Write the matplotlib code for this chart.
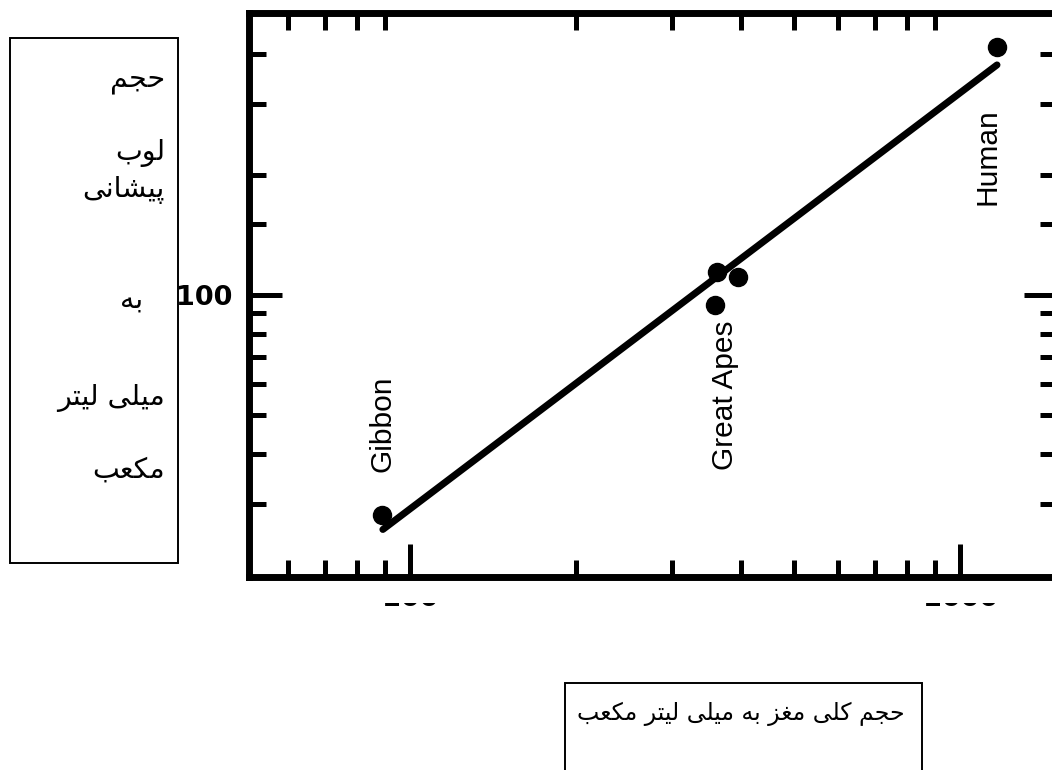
import matplotlib
matplotlib.use("Agg")
import matplotlib.pyplot as plt
from matplotlib.patches import Rectangle
from matplotlib.ticker import FixedLocator, FixedFormatter, NullFormatter
from matplotlib.transforms import Bbox

# total brain volume vs frontal lobe volume (cc), both on log scales
BRAIN_CC = [89, 358, 361, 395, 1167]
FRONTAL_CC = [28.2, 94.4, 114, 111, 417]

# fitted regression line end points
FIT_X = [89.3, 1167]
FIT_Y = [25.9, 376]

X_MAJOR = [100, 1000]
X_MAJOR_LABELS = ["100", "1000"]
X_MINOR = [60, 70, 80, 90, 200, 300, 400, 500, 600, 700, 800, 900]
Y_MAJOR = [100]
Y_MAJOR_LABELS = ["100"]
Y_MINOR = [30, 40, 50, 60, 70, 80, 90, 150, 200, 300, 400]

GROUP_LABELS = ["Gibbon", "Great Apes", "Human"]

Y_TITLE_LINES = ["حجم", "لوب", "پیشانی", "به", "میلی لیتر", "مکعب"]
X_TITLE = "حجم کلی مغز به میلی لیتر مکعب"

W, H = 1052, 770

# contextual forms (isolated, final, initial, medial); two entries = no forward join
FORMS = {
    "ا": "\uFE8D\uFE8E",
    "ب": "\uFE8F\uFE90\uFE91\uFE92",
    "پ": "\uFB56\uFB57\uFB58\uFB59",
    "ت": "\uFE95\uFE96\uFE97\uFE98",
    "ج": "\uFE9D\uFE9E\uFE9F\uFEA0",
    "ح": "\uFEA1\uFEA2\uFEA3\uFEA4",
    "ر": "\uFEAD\uFEAE",
    "ز": "\uFEAF\uFEB0",
    "ش": "\uFEB5\uFEB6\uFEB7\uFEB8",
    "ع": "\uFEC9\uFECA\uFECB\uFECC",
    "غ": "\uFECD\uFECE\uFECF\uFED0",
    "ک": "\uFB8E\uFB8F\uFB90\uFB91",
    "ل": "\uFEDD\uFEDE\uFEDF\uFEE0",
    "م": "\uFEE1\uFEE2\uFEE3\uFEE4",
    "ن": "\uFEE5\uFEE6\uFEE7\uFEE8",
    "ه": "\uFEE9\uFEEA\uFEEB\uFEEC",
    "و": "\uFEED\uFEEE",
    "ی": "\uFBFC\uFBFD\uFBFE\uFBFF",
}


def shape(text):
    """Join Persian letters and put them in visual (left-to-right) order."""
    out = []
    for i, ch in enumerate(text):
        forms = FORMS.get(ch)
        if forms is None:
            out.append(ch)
            continue
        prev = text[i - 1] if i > 0 else None
        nxt = text[i + 1] if i + 1 < len(text) else None
        join_prev = prev in FORMS and len(FORMS[prev]) == 4
        join_next = nxt in FORMS and len(forms) == 4
        if join_prev and join_next:
            out.append(forms[3])
        elif join_prev:
            out.append(forms[1])
        elif join_next:
            out.append(forms[2])
        else:
            out.append(forms[0])
    return "".join(reversed(out))


def fx(px):
    return px / W


def fy(py):
    return 1 - py / H


fig = plt.figure(figsize=(W / 100, H / 100), dpi=100)
ax = fig.add_axes([fx(249), fy(577), (1057 - 249) / W, (577 - 13) / H])
ax.set_xscale("log")
ax.set_yscale("log")
ax.set_xlim(51, 1500)
ax.set_ylim(19.7, 507)

ax.plot(FIT_X, FIT_Y, color="black", lw=5, solid_capstyle="round", zorder=2)
ax.plot(BRAIN_CC, FRONTAL_CC, "o", color="black", ms=13, zorder=3)

for side in ax.spines.values():
    side.set_linewidth(5)

ax.xaxis.set_major_locator(FixedLocator(X_MAJOR))
ax.xaxis.set_minor_locator(FixedLocator(X_MINOR))
ax.yaxis.set_major_locator(FixedLocator(Y_MAJOR))
ax.yaxis.set_minor_locator(FixedLocator(Y_MINOR))
ax.xaxis.set_major_formatter(NullFormatter())
ax.xaxis.set_minor_formatter(NullFormatter())
ax.yaxis.set_major_formatter(FixedFormatter(Y_MAJOR_LABELS))
ax.yaxis.set_minor_formatter(NullFormatter())

ax.tick_params(which="both", direction="in", width=3.6, color="black")
ax.tick_params(which="major", length=24)
ax.tick_params(which="minor", length=12)
ax.tick_params(axis="x", which="major", top=False, bottom=True)
ax.tick_params(axis="x", which="minor", top=True, bottom=True)
ax.tick_params(axis="y", which="both", left=True, right=True)
ax.tick_params(axis="y", which="major", pad=12, labelsize=19.5)
for lbl in ax.get_yticklabels():
    lbl.set_fontweight("bold")

# x tick labels: only the lower edge of the digits shows below the frame
strip = Bbox.from_extents(0, H - 607, W, H - 603)
for val, txt in zip(X_MAJOR, X_MAJOR_LABELS):
    t = ax.text(val, 0, txt, transform=ax.get_xaxis_transform(),
                ha="center", va="top", fontsize=19.5, fontweight="bold")
    t.set_position((val, -8.5 / (577 - 13)))
    t.set_clip_box(strip)
    t.set_clip_on(True)

# rotated group labels
label_pos = [(89.3, 36.1), (373.6, 36.5), (1122, 168)]
for (x, y), name in zip(label_pos, GROUP_LABELS):
    ax.text(x, y, name, rotation=90, ha="center", va="bottom",
            fontsize=21.5, family="Liberation Sans")

# axis titles in framed boxes
fig.add_artist(Rectangle((fx(10), fy(563)), (178 - 10) / W, (563 - 38) / H,
                         transform=fig.transFigure, fc="white", ec="black",
                         lw=1.4, zorder=5))
title_rows = [(165, 80, "right"), (165, 153, "right"), (165, 190, "right"),
              (132, 300, "center"), (165, 398, "right"), (165, 470, "right")]
for (px, py, ha), line in zip(title_rows, Y_TITLE_LINES):
    fig.text(fx(px), fy(py), shape(line), ha=ha, va="center",
             fontsize=20.5, family="DejaVu Sans", zorder=6)

fig.add_artist(Rectangle((fx(565), fy(800)), (922 - 565) / W, (800 - 683) / H,
                         transform=fig.transFigure, fc="white", ec="black",
                         lw=1.4, zorder=5))
fig.text(fx(905), fy(714), shape(X_TITLE), ha="right", va="center",
         fontsize=17, family="DejaVu Sans", zorder=6)

fig.savefig("out.png", dpi=100)
